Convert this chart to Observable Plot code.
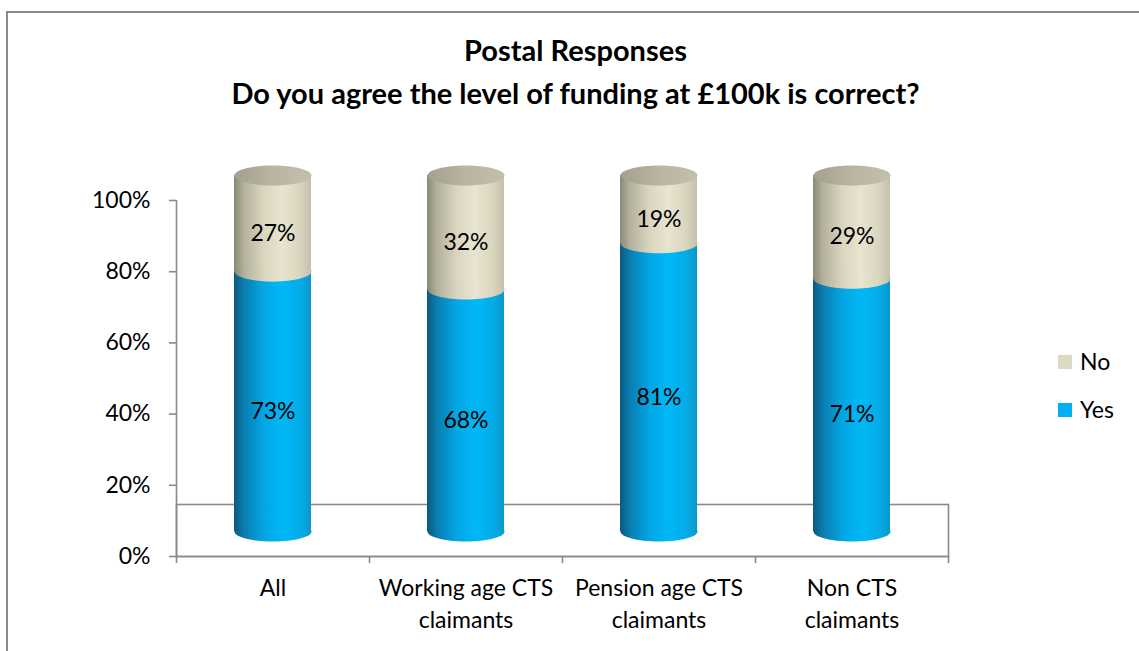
<!DOCTYPE html>
<html>
<head>
<meta charset="utf-8">
<script src="https://cdn.jsdelivr.net/npm/d3@7"></script>
<script src="https://cdn.jsdelivr.net/npm/@observablehq/plot@0.6"></script>
<style>
  html, body { margin: 0; padding: 0; background: #fff; }
  body { width: 1139px; height: 651px; overflow: hidden; position: relative; font-family: Lato, "Open Sans", sans-serif; }
  #border { position: absolute; left: 6px; top: 11px; right: -10px; bottom: -10px; border-left: 2px solid #8a8a8a; border-top: 2px solid #8a8a8a; }
  #title { position: absolute; left: 6px; width: 1139px; top: 28px; text-align: center; font-weight: bold; font-size: 29px; line-height: 43px; color: #000; }
  #chart { position: absolute; left: 0; top: 130px; }
  .lg { position: absolute; font-size: 23px; color: #000; line-height: 23px; }
  .sw { position: absolute; width: 14px; height: 14px; }
</style>
</head>
<body>
<div id="border"></div>
<div id="title">Postal Responses<br>Do you agree the level of funding at £100k is correct?</div>
<div id="chart"></div>
<div class="sw" style="left:1058px;top:355px;background:#ddd9c3"></div>
<div class="lg" style="left:1080px;top:350px">No</div>
<div class="sw" style="left:1058px;top:403px;background:#00b0f0"></div>
<div class="lg" style="left:1080px;top:398px">Yes</div>
<script>
const categories = ["All", "Working age CTS\nclaimants", "Pension age CTS\nclaimants", "Non CTS\nclaimants"];
const yesValues = [73, 68, 81, 71];
const noValues = [27, 32, 19, 29];
const yTicks = [0, 0.2, 0.4, 0.6, 0.8, 1];

const data = categories.map((c, i) => ({cat: c, yes: yesValues[i], no: noValues[i]}));

const ellipse = {
  draw(context, size) {
    const rx = Math.sqrt(size / Math.PI), ry = rx * 0.26, k = 0.5523;
    context.moveTo(rx, 0);
    context.bezierCurveTo(rx, ry * k, rx * k, ry, 0, ry);
    context.bezierCurveTo(-rx * k, ry, -rx, ry * k, -rx, 0);
    context.bezierCurveTo(-rx, -ry * k, -rx * k, -ry, 0, -ry);
    context.bezierCurveTo(rx * k, -ry, rx, -ry * k, rx, 0);
    context.closePath();
  }
};

const half = (1139 - 176 - 191) / categories.length / 2;
const lift = -25;
const axisColor = "#8a8a8a";

const chart = Plot.plot({
  width: 1139,
  height: 521,
  marginLeft: 176,
  marginRight: 191,
  marginTop: 70,
  marginBottom: 95,
  style: {fontFamily: "Lato, 'Open Sans', sans-serif", fontSize: "23px", color: "#000", background: "transparent", overflow: "visible"},
  x: {domain: categories, paddingInner: 0.601, paddingOuter: 0.3005},
  y: {domain: [0, 1]},
  marks: [
    Plot.frame({insetTop: 304, stroke: axisColor, strokeWidth: 1.6}),
    Plot.ruleY([0], {stroke: axisColor, strokeWidth: 1.6}),
    Plot.ruleX([categories[0]], {dx: -half, insetBottom: -7, stroke: axisColor, strokeWidth: 1.6}),
    Plot.ruleX(categories, {y1: () => 0, y2: () => 0, insetBottom: -7, dx: half, stroke: axisColor, strokeWidth: 1.6}),
    Plot.axisY({ticks: yTicks, tickFormat: d => `${Math.round(d * 100)}%`, tickSize: 7, tickPadding: 19, stroke: axisColor, strokeWidth: 1.6, label: null, fontSize: 23}),
    Plot.axisX({tickSize: 0, tickPadding: 17, fontSize: 23, lineHeight: 1.38, label: null}),
    // Yes cylinder
    Plot.barY(data, {x: "cat", y1: () => 0, y2: d => d.yes / 100, dy: lift, fill: "url(#gYes)"}),
    Plot.dot(data, {x: "cat", y: () => 0, r: 38.5, symbol: ellipse, dy: lift, fill: "url(#gYes)"}),
    // No cylinder
    Plot.barY(data, {x: "cat", y1: d => d.yes / 100, y2: d => (d.yes + d.no) / 100, dy: lift, fill: "url(#gNo)"}),
    Plot.dot(data, {x: "cat", y: d => d.yes / 100, r: 38.5, symbol: ellipse, dy: lift, fill: "url(#gNo)"}),
    Plot.dot(data, {x: "cat", y: d => (d.yes + d.no) / 100, r: 38.5, symbol: ellipse, dy: lift, fill: "url(#gTop)"}),
    // Labels
    Plot.text(data, {x: "cat", y: d => d.yes / 200, text: d => `${d.yes}%`, dy: lift + 10, fontSize: 23, fill: "#000"}),
    Plot.text(data, {x: "cat", y: d => (d.yes + d.no / 2) / 100, text: d => `${d.no}%`, dy: lift + 10, fontSize: 23, fill: "#000"})
  ]
});

const defs = d3.select(chart).insert("defs", ":first-child");
function grad(id, stops) {
  const g = defs.append("linearGradient").attr("id", id).attr("x1", 0).attr("x2", 1).attr("y1", 0).attr("y2", 0);
  stops.forEach(([o, c]) => g.append("stop").attr("offset", o).attr("stop-color", c));
}
grad("gYes", [[0, "#0b587e"], [0.12, "#0a7cae"], [0.38, "#02a6e3"], [0.62, "#00b8f5"], [0.85, "#03ade8"], [1, "#0a98ca"]]);
grad("gNo", [[0, "#8a8876"], [0.12, "#b2af9c"], [0.38, "#d9d5bf"], [0.62, "#e8e4cf"], [0.85, "#d9d5bf"], [1, "#c4c0ab"]]);
grad("gTop", [[0, "#a3a08e"], [0.5, "#b8b5a3"], [1, "#c2bfad"]]);

document.getElementById("chart").appendChild(chart);
</script>
</body>
</html>
